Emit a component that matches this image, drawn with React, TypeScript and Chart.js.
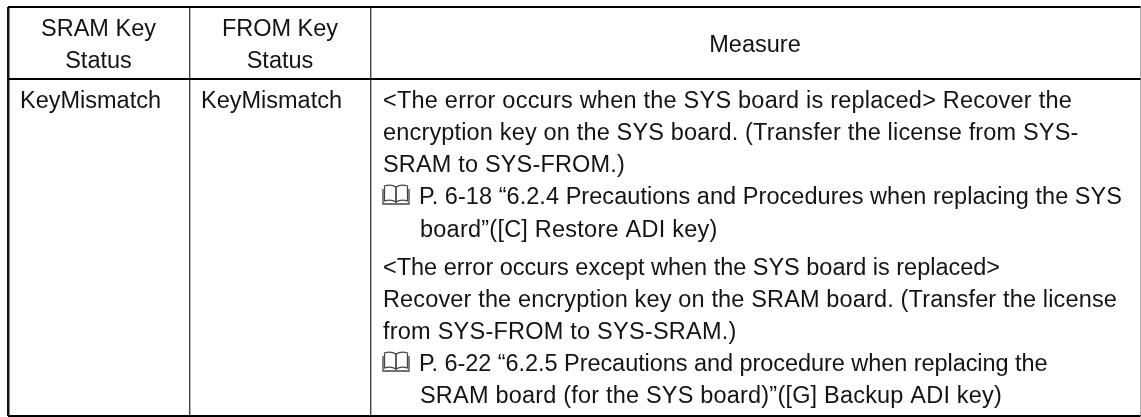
import React, { useEffect, useRef } from "react";
import { Chart, registerables } from "chart.js";

Chart.register(...registerables);

// Table content
const headerSram = ["SRAM Key", "Status"];
const headerFrom = ["FROM Key", "Status"];
const headerMeasure = ["Measure"];
const sramStatus = ["KeyMismatch"];
const fromStatus = ["KeyMismatch"];
const measureLines = [
  "<The error occurs when the SYS board is replaced> Recover the",
  "encryption key on the SYS board. (Transfer the license from SYS-",
  "SRAM to SYS-FROM.)",
  "P. 6-18 “6.2.4 Precautions and Procedures when replacing the SYS",
  "board”([C] Restore ADI key)",
  "<The error occurs except when the SYS board is replaced>",
  "Recover the encryption key on the SRAM board. (Transfer the license",
  "from SYS-FROM to SYS-SRAM.)",
  "P. 6-22 “6.2.5 Precautions and procedure when replacing the",
  "SRAM board (for the SYS board)”([G] Backup ADI key)",
];

// Table layout, in the units of the two scales
const columnRules = [8, 189.5, 371, 1140.5];
const columnRuleWidths = [2.5, 1.4, 1.4, 0.8];
const rowRules = [7, 79, 416];
const rowRuleWidths = [2, 2, 2];
const measureBaselines = [108, 140, 172, 204, 237, 275, 307, 339, 371, 403];
const measureIndents = [383, 383, 383, 419, 420, 383, 383, 383, 419, 420];
const measureRightEdges = [1072, 1078.5, 625, 1122, 717.5, 1000, 1117, 736.5, 1047.5, 1002];
const bookLines = [3, 8];

const FONT = '23.5px "Liberation Sans", Arial, sans-serif';
const INK = "#141414";

function drawBook(ctx: CanvasRenderingContext2D, x: number, base: number) {
  ctx.save();
  ctx.strokeStyle = "#444";
  ctx.lineWidth = 1.3;
  const w = 13, h = 19, top = base - h;
  const page = (dir: number) => {
    const mid = x + w;
    ctx.beginPath();
    ctx.moveTo(mid, top + 2);
    ctx.quadraticCurveTo(mid + dir * 5, top - 1, mid + dir * (w - 1.5), top + 1);
    ctx.lineTo(mid + dir * (w - 1.5), base - 3);
    ctx.quadraticCurveTo(mid + dir * 5, base - 5, mid, base - 2);
    ctx.closePath();
    ctx.stroke();
    ctx.beginPath();
    ctx.moveTo(mid + dir * w, top + 4);
    ctx.lineTo(mid + dir * w, base);
    ctx.lineTo(mid, base);
    ctx.stroke();
  };
  page(-1);
  page(1);
  ctx.restore();
}

const tableText = {
  id: "tableText",
  afterDraw(chart: any) {
    const { ctx, scales } = chart;
    const px = (v: number) => scales.x.getPixelForValue(v);
    const py = (v: number) => scales.y.getPixelForValue(v);
    ctx.save();
    ctx.font = FONT;
    ctx.fillStyle = INK;
    ctx.textBaseline = "alphabetic";
    ctx.textAlign = "center";
    headerSram.forEach((t, i) => ctx.fillText(t, px(98.5), py(36 + i * 32)));
    headerFrom.forEach((t, i) => ctx.fillText(t, px(280), py(36 + i * 32)));
    headerMeasure.forEach((t) => ctx.fillText(t, px(755), py(52)));
    ctx.textAlign = "left";
    sramStatus.forEach((t) => ctx.fillText(t, px(20), py(108)));
    fromStatus.forEach((t) => ctx.fillText(t, px(201), py(108)));
    measureLines.forEach((t, i) => {
      ctx.letterSpacing = "0px";
      const natural = ctx.measureText(t).width;
      const extra = (measureRightEdges[i] - measureIndents[i] - natural) / t.length;
      ctx.letterSpacing = `${extra}px`;
      ctx.fillText(t, px(measureIndents[i]), py(measureBaselines[i]));
    });
    ctx.letterSpacing = "0px";
    ctx.restore();
    bookLines.forEach((i) => drawBook(ctx, px(383), py(measureBaselines[i])));
  },
};

export default function App() {
  const ref = useRef<HTMLCanvasElement>(null);
  useEffect(() => {
    document.body.style.margin = "0";
    const chart = new Chart(ref.current!, {
      type: "scatter",
      data: { datasets: [{ data: [] }] },
      plugins: [tableText],
      options: {
        animation: false,
        responsive: false,
        devicePixelRatio: 1,
        layout: { padding: { left: 8, top: 7, right: 0.5, bottom: 1 } },
        plugins: { legend: { display: false }, tooltip: { enabled: false } },
        scales: {
          x: {
            type: "linear",
            min: columnRules[0],
            max: columnRules[columnRules.length - 1],
            border: { display: false },
            afterBuildTicks: (s: any) => {
              s.ticks = columnRules.map((value) => ({ value }));
            },
            ticks: { display: false, autoSkip: false },
            grid: {
              drawTicks: false,
              color: (c: any) => (c.index === 0 ? "#111" : c.index === 3 ? "#999" : "#444"),
              lineWidth: (c: any) => columnRuleWidths[c.index] ?? 1,
            },
          },
          y: {
            type: "linear",
            reverse: true,
            min: rowRules[0],
            max: rowRules[rowRules.length - 1],
            border: { display: false },
            afterBuildTicks: (s: any) => {
              s.ticks = rowRules.map((value) => ({ value }));
            },
            ticks: { display: false, autoSkip: false },
            grid: {
              drawTicks: false,
              color: "#000",
              lineWidth: (c: any) => rowRuleWidths[c.index] ?? 1,
            },
          },
        },
      } as any,
    });
    return () => chart.destroy();
  }, []);
  return (
    <div style={{ position: "absolute", left: 0, top: 0, width: 1141, height: 417, background: "#fff" }}>
      <canvas ref={ref} width={1141} height={417} style={{ display: "block" }} />
    </div>
  );
}
